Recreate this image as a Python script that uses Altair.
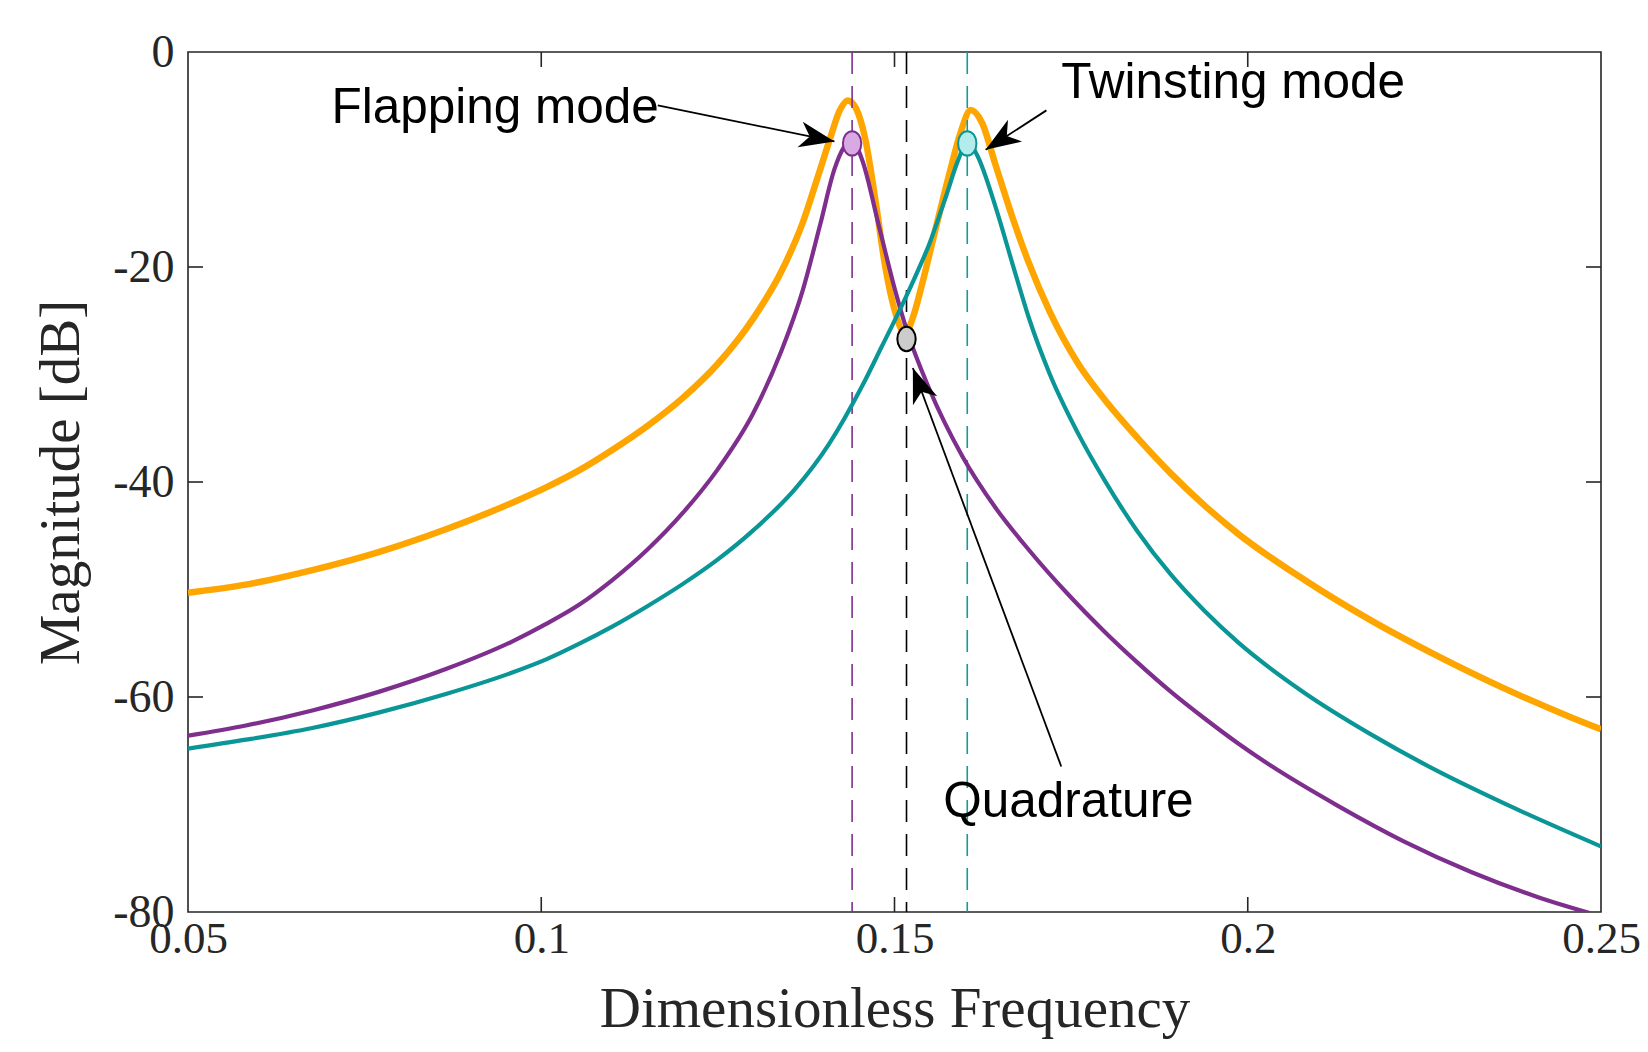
import math
import altair as alt
import pandas as pd

# ---------------- data ----------------
orange_f = [0.05, 0.0582, 0.0676, 0.0771, 0.0865, 0.0960, 0.1007, 0.1054, 0.1101, 0.1150,
            0.1200, 0.1250, 0.1300, 0.1340, 0.1370, 0.1392, 0.1410, 0.1422, 0.1434, 0.1446,
            0.1459, 0.1473, 0.1487, 0.1501, 0.1515, 0.1527, 0.1539, 0.1558, 0.1577, 0.1593,
            0.1608, 0.1624, 0.1643, 0.1667, 0.1690, 0.1720, 0.1760, 0.1797, 0.1844, 0.1891,
            0.1939, 0.1986, 0.2080, 0.2175, 0.2269, 0.2363, 0.2458, 0.25]
orange_m = [-50.3, -49.55, -48.2, -46.5, -44.4, -41.9, -40.5, -38.9, -37.0, -34.8,
            -32.2, -29.0, -24.8, -20.4, -15.9, -11.5, -7.8, -5.5, -4.5, -5.3,
            -8.2, -13.8, -20.0, -24.2, -26.2, -24.5, -21.6, -16.5, -11.5, -7.6,
            -5.4, -6.6, -10.5, -15.4, -19.6, -24.2, -29.0, -32.3, -35.9, -39.2,
            -42.2, -44.8, -49.1, -52.9, -56.2, -59.2, -61.9, -63.0]

purple_f = [0.05, 0.0582, 0.0676, 0.0771, 0.0865, 0.0960, 0.1007, 0.1054, 0.1101, 0.1150,
            0.1200, 0.1250, 0.1300, 0.1340, 0.1370, 0.1395, 0.1415, 0.1428, 0.1440, 0.1454,
            0.1478, 0.1501, 0.1517, 0.1549, 0.1596, 0.1643, 0.1690, 0.1745, 0.1797, 0.1844,
            0.1891, 0.1939, 0.1986, 0.2033, 0.2127, 0.2220, 0.2317, 0.2410, 0.25]
purple_m = [-63.6, -62.65, -61.25, -59.5, -57.4, -54.8, -53.2, -51.4, -49.1, -46.3,
            -42.9, -38.8, -33.6, -27.8, -22.2, -16.0, -10.9, -8.9, -8.2, -10.0,
            -16.2, -22.2, -25.8, -31.3, -37.6, -42.4, -46.3, -50.4, -53.9, -56.8,
            -59.5, -62.0, -64.3, -66.4, -70.1, -73.4, -76.3, -78.6, -80.4]

teal_f = [0.05, 0.0582, 0.0676, 0.0771, 0.0865, 0.0960, 0.1007, 0.1054, 0.1101, 0.1149,
          0.1200, 0.1250, 0.1300, 0.1360, 0.1407, 0.1454, 0.1482, 0.1506, 0.1530, 0.1549,
          0.1572, 0.1591, 0.1603, 0.1617, 0.1643, 0.1667, 0.1690, 0.1720, 0.1760, 0.1797,
          0.1844, 0.1891, 0.1939, 0.1986, 0.2080, 0.2175, 0.2269, 0.2363, 0.25]
teal_m = [-64.8, -63.97, -62.88, -61.43, -59.72, -57.7, -56.5, -55.04, -53.43, -51.6,
          -49.5, -47.2, -44.5, -40.6, -36.5, -31.1, -27.4, -24.2, -20.8, -17.9,
          -13.6, -9.9, -8.3, -9.6, -14.4, -19.7, -24.7, -30.0, -35.5, -39.8,
          -44.6, -48.6, -52.0, -54.9, -59.6, -63.5, -66.9, -69.9, -73.9]

# dashed mode lines
mode_f = [0.1440, 0.1517, 0.1603]
mode_color = ["#7E2F8E", "#000000", "#119C9C"]

# markers
marker_f = [0.1440, 0.1603, 0.1517]
marker_m = [-8.5, -8.5, -26.7]
marker_fill = ["#D8A9E2", "#B2ECEB", "#CCCCCC"]
marker_stroke = ["#7E2F8E", "#0A9696", "#000000"]

# annotations
labels = ["Flapping mode", "Twinsting mode", "Quadrature"]
label_f = [0.0703, 0.1736, 0.1569]
label_m = [-5.2, -2.9, -69.8]
arrow_start_f = [0.1165, 0.1715, 0.1736]
arrow_start_m = [-4.97, -5.43, -66.46]
arrow_tip_f = [0.1415, 0.1629, 0.1526]
arrow_tip_m = [-8.32, -9.09, -29.4]

x_ticks = [0.05, 0.1, 0.15, 0.2, 0.25]
y_ticks = [-80, -60, -40, -20, 0]
x_inner_ticks = [0.1, 0.15, 0.2]
y_inner_ticks = [-60, -40, -20]

# ---------------- layout ----------------
W, H = 1413, 860
XMIN, XMAX = 0.05, 0.25
YMIN, YMAX = -80, 0
AXC = "#262626"

xs = alt.Scale(domain=[XMIN, XMAX], nice=False, zero=False)
ys = alt.Scale(domain=[YMIN, YMAX], nice=False, zero=False)

x_axis = alt.Axis(values=x_ticks, format="~g", tickSize=0, domain=False, grid=False,
                  labelFlush=False, labelOverlap=False, labelPadding=4,
                  labelFont="Liberation Serif", labelFontSize=45, labelColor=AXC,
                  titleFont="Liberation Serif", titleFontSize=57, titleFontWeight="normal",
                  titleColor=AXC, titlePadding=20)
y_axis = alt.Axis(values=y_ticks, tickSize=0, domain=False, grid=False,
                  labelExpr="replace(datum.label, '\u2212', '-')",
                  labelFlush=False, labelOverlap=False, labelPadding=14,
                  labelFont="Liberation Serif", labelFontSize=46, labelColor=AXC,
                  titleFont="Liberation Serif", titleFontSize=57, titleFontWeight="normal",
                  titleColor=AXC, titlePadding=22)


def line_layer(f, m, color, width, axes=False):
    df = pd.DataFrame({"f": f, "m": m})
    if axes:
        x = alt.X("f:Q", scale=xs, axis=x_axis, title="Dimensionless Frequency")
        y = alt.Y("m:Q", scale=ys, axis=y_axis, title="Magnitude [dB]")
    else:
        x = alt.X("f:Q", scale=xs, axis=None)
        y = alt.Y("m:Q", scale=ys, axis=None)
    return alt.Chart(df).mark_line(color=color, strokeWidth=width, interpolate="monotone",
                                   clip=True).encode(x=x, y=y)


modes_df = pd.DataFrame({"f": mode_f, "c": mode_color})
modes = alt.Chart(modes_df).mark_rule(strokeDash=[22, 12], strokeWidth=1.6).encode(
    x=alt.X("f:Q", scale=xs, axis=None),
    stroke=alt.Stroke("c:N", scale=None))

ticks_x_df = pd.DataFrame({"f": x_inner_ticks})
ticks_y_df = pd.DataFrame({"m": y_inner_ticks})
tick_bottom = alt.Chart(ticks_x_df).mark_rule(color=AXC, strokeWidth=1.6).encode(
    x=alt.X("f:Q", scale=xs, axis=None), y=alt.value(H), y2=alt.value(H - 15))
tick_top = alt.Chart(ticks_x_df).mark_rule(color=AXC, strokeWidth=1.6).encode(
    x=alt.X("f:Q", scale=xs, axis=None), y=alt.value(0), y2=alt.value(15))
tick_left = alt.Chart(ticks_y_df).mark_rule(color=AXC, strokeWidth=1.6).encode(
    y=alt.Y("m:Q", scale=ys, axis=None), x=alt.value(0), x2=alt.value(15))
tick_right = alt.Chart(ticks_y_df).mark_rule(color=AXC, strokeWidth=1.6).encode(
    y=alt.Y("m:Q", scale=ys, axis=None), x=alt.value(W), x2=alt.value(W - 15))

ellipse = "M-0.75,0 A0.75,1 0 1,1 0.75,0 A0.75,1 0 1,1 -0.75,0 Z"
markers_df = pd.DataFrame({"f": marker_f, "m": marker_m, "fill": marker_fill,
                           "stroke": marker_stroke})
markers = alt.Chart(markers_df).mark_point(shape=ellipse, size=600, filled=True,
                                           strokeWidth=2, opacity=1).encode(
    x=alt.X("f:Q", scale=xs, axis=None), y=alt.Y("m:Q", scale=ys, axis=None),
    fill=alt.Fill("fill:N", scale=None), stroke=alt.Stroke("stroke:N", scale=None))

# arrows
angles = []
for sf, sm, tf, tm in zip(arrow_start_f, arrow_start_m, arrow_tip_f, arrow_tip_m):
    dx = (tf - sf) / (XMAX - XMIN) * W
    dy = -(tm - sm) / (YMAX - YMIN) * H
    angles.append(math.degrees(math.atan2(dx, -dy)) % 360)

arrows_df = pd.DataFrame({"f": arrow_start_f, "m": arrow_start_m,
                          "f2": arrow_tip_f, "m2": arrow_tip_m, "ang": angles})
shafts = alt.Chart(arrows_df).mark_rule(color="black", strokeWidth=1.8).encode(
    x=alt.X("f:Q", scale=xs, axis=None), y=alt.Y("m:Q", scale=ys, axis=None),
    x2="f2:Q", y2="m2:Q")
head_path = "M0,0 L0.37,1 L0,0.72 L-0.37,1 Z"
heads = alt.Chart(arrows_df).mark_point(shape=head_path, size=4900, filled=True,
                                        color="black", opacity=1, strokeWidth=0).encode(
    x=alt.X("f2:Q", scale=xs, axis=None), y=alt.Y("m2:Q", scale=ys, axis=None),
    angle=alt.Angle("ang:Q", scale=None))

text_df = pd.DataFrame({"f": label_f, "m": label_m, "t": labels})
texts = alt.Chart(text_df).mark_text(font="Liberation Sans", fontSize=49.5, align="left",
                                     baseline="middle", color="black").encode(
    x=alt.X("f:Q", scale=xs, axis=None), y=alt.Y("m:Q", scale=ys, axis=None), text="t:N")

chart = alt.layer(
    line_layer(orange_f, orange_m, "#FFA500", 6.5, axes=True),
    modes,
    line_layer(purple_f, purple_m, "#7E2F8E", 4.2),
    line_layer(teal_f, teal_m, "#0A9696", 4.2),
    tick_bottom, tick_top, tick_left, tick_right,
    shafts, heads, markers, texts,
).resolve_axis(x="independent", y="independent").properties(
    width=W, height=H,
    padding={"left": 180, "top": 44, "right": 39, "bottom": 132},
    autosize=alt.AutoSizeParams(type="none"),
    background="white",
).configure_view(stroke=AXC, strokeWidth=1.6)

chart.save("out.html", embed_options={"renderer": "svg", "actions": False})
